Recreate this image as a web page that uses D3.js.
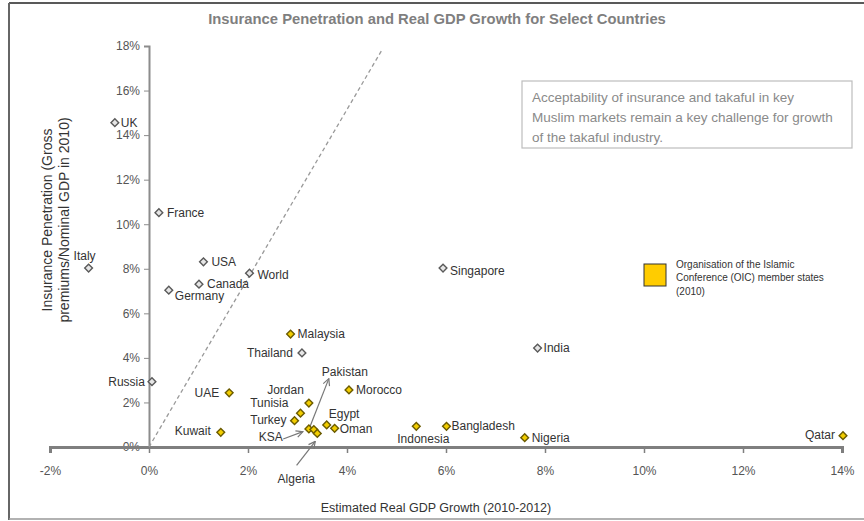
<!DOCTYPE html>
<html>
<meta charset="UTF-8">
<head>
    <script src="https://d3js.org/d3.v7.min.js"></script>
    <style>
        body { margin: 0; background: white; font-family: "Liberation Sans", Arial, sans-serif; }
    </style>
</head>
<body>
<script>
    // countries, growth (x, %), penetration (y, %), OIC member flag
    let countries   = ["UK", "Italy", "France", "USA", "Canada", "Germany", "World", "Singapore", "India", "Malaysia",
                       "Thailand", "Russia", "UAE", "Kuwait", "Jordan", "Tunisia", "Turkey", "KSA", "Pakistan", "Algeria",
                       "Egypt", "Oman", "Morocco", "Indonesia", "Bangladesh", "Nigeria", "Qatar"];
    let growth      = [-0.69, -1.22, 0.2, 1.1, 1.01, 0.4, 2.03, 5.94, 7.85, 2.86,
                       3.09, 0.06, 1.62, 1.45, 3.23, 3.06, 2.94, 3.23, 3.33, 3.40,
                       3.59, 3.75, 4.04, 5.40, 6.01, 7.59, 14.02];
    let penetration = [14.56, 8.03, 10.52, 8.31, 7.31, 7.04, 7.8, 8.03, 4.44, 5.07,
                       4.22, 2.93, 2.43, 0.66, 1.97, 1.52, 1.18, 0.81, 0.78, 0.61,
                       0.99, 0.84, 2.56, 0.93, 0.93, 0.42, 0.51];
    let oic         = [0, 0, 0, 0, 0, 0, 0, 0, 0, 1,
                       0, 0, 1, 1, 1, 1, 1, 1, 1, 1,
                       1, 1, 1, 1, 1, 1, 1];
    let xTicks = [-2, 0, 2, 4, 6, 8, 10, 12, 14];
    let yTicks = [0, 2, 4, 6, 8, 10, 12, 14, 16, 18];
    let refLine = [[0, 0], [4.7, 17.8]];

    let title = "Insurance Penetration and Real GDP Growth for Select Countries";
    let xTitle = "Estimated Real GDP Growth (2010-2012)";
    let yTitle = ["Insurance Penetration (Gross", "premiums/Nominal GDP in 2010)"];
    let note = ["Acceptability of insurance and takaful in key",
                "Muslim markets remain a key challenge for growth",
                "of the takaful industry."];
    let legendText = ["Organisation of the Islamic", "Conference (OIC) member states", "(2010)"];

    // label placement per country: [dx, dy, anchor]
    let labelPos = {
        "UK": [6, 4, "start"], "Italy": [-4, -8, "middle"], "France": [8, 4, "start"],
        "USA": [8, 4, "start"], "Canada": [8, 4, "start"], "Germany": [6, 10, "start"],
        "World": [8, 6, "start"], "Singapore": [7, 7, "start"], "India": [6, 4, "start"],
        "Malaysia": [7, 4, "start"], "Thailand": [-9, 4, "end"], "Russia": [-7, 4, "end"],
        "UAE": [-10, 4, "end"], "Kuwait": [-10, 3, "end"], "Jordan": [-5, -9, "end"],
        "Tunisia": [-12, -6, "end"], "Turkey": [-8, 3, "end"], "KSA": [-26, 12, "end"],
        "Pakistan": [31, -54, "middle"], "Algeria": [-21, 50, "middle"], "Egypt": [2, -7, "start"],
        "Oman": [5, 5, "start"], "Morocco": [7, 4, "start"], "Indonesia": [7, 17, "middle"],
        "Bangladesh": [5, 4, "start"], "Nigeria": [7, 4, "start"], "Qatar": [-8, 3, "end"]
    };
    // arrows: start offset and head offset relative to the marker
    let arrows = {
        "Pakistan": [[-3.6, -3.7], [15, -51]],
        "Algeria": [[-20.7, 32], [-2, 8]],
        "KSA": [[-25.7, 10], [-6, 2.7]]
    };

    let svg = d3.select("body").append("svg")
        .attr("width", 864)
        .attr("height", 521);

    // frame
    svg.append("line").attr("x1", 9).attr("x2", 864).attr("y1", 3).attr("y2", 3)
        .attr("stroke", "#222").attr("stroke-width", 1.5);
    svg.append("line").attr("x1", 9).attr("x2", 9).attr("y1", 3).attr("y2", 520)
        .attr("stroke", "#666").attr("stroke-width", 2);
    svg.append("line").attr("x1", 9).attr("x2", 864).attr("y1", 519).attr("y2", 519)
        .attr("stroke", "#999").attr("stroke-width", 1.5);

    let x = d3.scaleLinear().domain([-2, 14]).range([50, 842]);
    let y = d3.scaleLinear().domain([0, 18]).range([447, 46]);

    svg.append("text")
        .attr("x", 437).attr("y", 24)
        .attr("text-anchor", "middle")
        .attr("font-size", "14.8px").attr("font-weight", "bold")
        .attr("fill", "#7f7f7f")
        .text(title);

    // y axis
    let yAxis = svg.append("g")
        .attr("transform", `translate(${x(0)},0)`)
        .call(d3.axisLeft(y).tickValues(yTicks).tickFormat(d => d + "%").tickSize(5).tickSizeOuter(5));
    yAxis.select(".domain").attr("stroke", "#8c8c8c").attr("stroke-width", 2);
    yAxis.selectAll(".tick line").attr("stroke", "#8c8c8c");
    yAxis.selectAll(".tick text")
        .attr("font-family", "Liberation Sans, Arial, sans-serif")
        .attr("font-size", "12px").attr("fill", "#555").attr("x", -9);

    // x axis
    let xAxis = svg.append("g")
        .attr("transform", `translate(0,${y(0)})`)
        .call(d3.axisBottom(x).tickValues(xTicks).tickFormat(d => d + "%").tickSize(6).tickSizeOuter(6));
    xAxis.select(".domain").attr("stroke", "#7f7f7f").attr("stroke-width", 3);
    xAxis.selectAll(".tick line").attr("stroke", "#7f7f7f").attr("stroke-width", 1.5);
    xAxis.selectAll(".tick text")
        .attr("font-family", "Liberation Sans, Arial, sans-serif")
        .attr("font-size", "12px").attr("fill", "#555").attr("y", 19);

    // axis titles
    svg.append("text")
        .attr("x", 436).attr("y", 512)
        .attr("text-anchor", "middle")
        .attr("font-size", "12.5px").attr("fill", "#333")
        .text(xTitle);

    svg.append("g")
        .attr("transform", "translate(52,220) rotate(-90)")
        .selectAll("text")
        .data(yTitle)
        .join("text")
        .attr("x", 0).attr("y", (d, i) => i * 16.5)
        .attr("text-anchor", "middle")
        .attr("font-size", "14px").attr("fill", "#333")
        .text(d => d);

    // dashed reference line
    svg.append("path")
        .datum(refLine)
        .attr("d", d3.line().x(d => x(d[0])).y(d => y(d[1])))
        .attr("stroke", "#999").attr("stroke-width", 1.3)
        .attr("stroke-dasharray", "4,3").attr("fill", "none");

    // note box
    svg.append("rect")
        .attr("x", 522).attr("y", 81).attr("width", 330).attr("height", 67)
        .attr("fill", "white").attr("stroke", "#bdbdbd").attr("stroke-width", 1.2);
    svg.append("g").selectAll("text")
        .data(note)
        .join("text")
        .attr("x", 532).attr("y", (d, i) => 102 + i * 20)
        .attr("font-size", "13.5px").attr("fill", "#8a8a8a")
        .text(d => d);

    // legend
    svg.append("rect")
        .attr("x", 644).attr("y", 264).attr("width", 22).attr("height", 22)
        .attr("fill", "#ffcc00").attr("stroke", "#333").attr("stroke-width", 1);
    svg.append("g").selectAll("text")
        .data(legendText)
        .join("text")
        .attr("x", 676).attr("y", (d, i) => 268 + i * 13.3)
        .attr("font-size", "10px").attr("fill", "#333")
        .text(d => d);

    // arrows
    svg.append("defs").append("marker")
        .attr("id", "head")
        .attr("viewBox", "0 0 10 10")
        .attr("refX", 9).attr("refY", 5)
        .attr("markerWidth", 7).attr("markerHeight", 7)
        .attr("orient", "auto")
        .append("path")
        .attr("d", "M1,1 L9,5 L1,9")
        .attr("fill", "none").attr("stroke", "#777").attr("stroke-width", 1.4);

    let points = countries.map((c, i) => ({name: c, gx: growth[i], py: penetration[i], oic: oic[i]}));

    svg.append("g").selectAll("line")
        .data(points.filter(d => arrows[d.name]))
        .join("line")
        .attr("x1", d => x(d.gx) + arrows[d.name][0][0])
        .attr("y1", d => y(d.py) + arrows[d.name][0][1])
        .attr("x2", d => x(d.gx) + arrows[d.name][1][0])
        .attr("y2", d => y(d.py) + arrows[d.name][1][1])
        .attr("stroke", "#777").attr("stroke-width", 1.2)
        .attr("marker-end", "url(#head)");

    // markers
    svg.append("g").selectAll("path")
        .data(points)
        .join("path")
        .attr("d", d3.symbol(d3.symbolSquare, 30))
        .attr("transform", d => `translate(${x(d.gx)},${y(d.py)}) rotate(45)`)
        .attr("fill", d => d.oic ? "#f2cd00" : "#e6e6e6")
        .attr("stroke", d => d.oic ? "#6b5b00" : "#5a5a5a")
        .attr("stroke-width", 1.4);

    // labels
    svg.append("g").selectAll("text")
        .data(points)
        .join("text")
        .attr("x", d => x(d.gx) + labelPos[d.name][0])
        .attr("y", d => y(d.py) + labelPos[d.name][1])
        .attr("text-anchor", d => labelPos[d.name][2])
        .attr("font-size", "12px").attr("fill", "#333")
        .text(d => d.name);
</script>
</body>
</html>
